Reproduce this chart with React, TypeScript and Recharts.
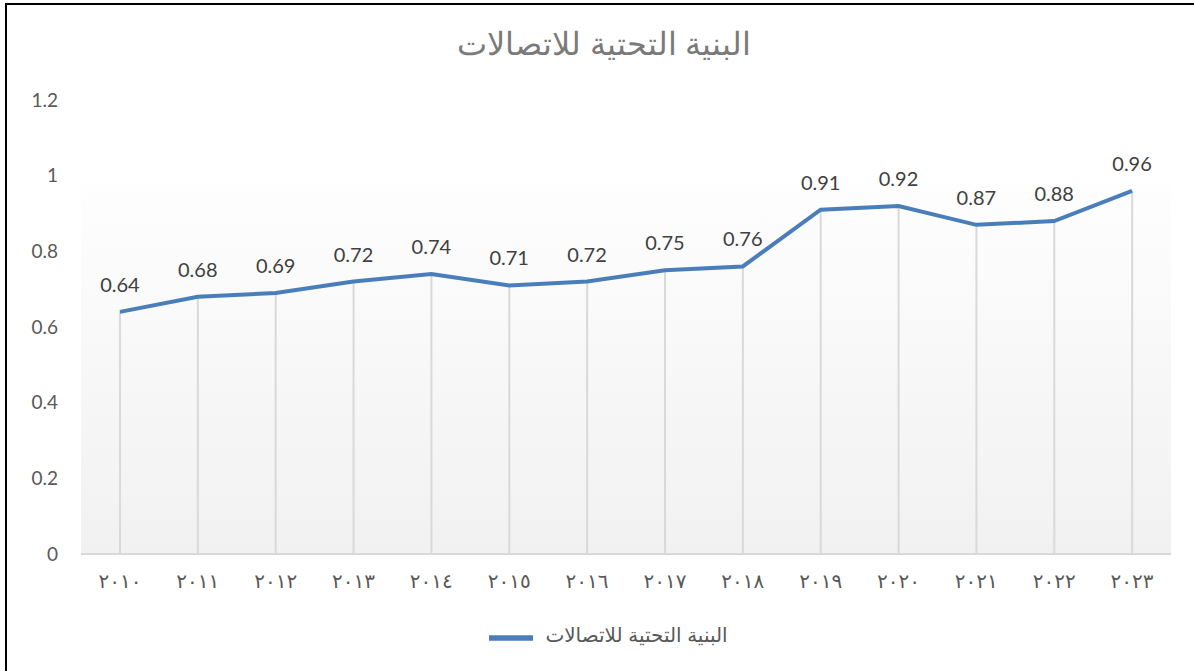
import React from "react"
import {
  ComposedChart,
  Line,
  Bar,
  XAxis,
  YAxis,
  Legend,
  LabelList,
  ReferenceArea
} from "recharts"

const years = ["٢٠١٠", "٢٠١١", "٢٠١٢", "٢٠١٣", "٢٠١٤", "٢٠١٥", "٢٠١٦", "٢٠١٧", "٢٠١٨", "٢٠١٩", "٢٠٢٠", "٢٠٢١", "٢٠٢٢", "٢٠٢٣"]
const values = [0.64, 0.68, 0.69, 0.72, 0.74, 0.71, 0.72, 0.75, 0.76, 0.91, 0.92, 0.87, 0.88, 0.96]
const yTicks = [0, 0.2, 0.4, 0.6, 0.8, 1, 1.2]
const seriesName = "البنية التحتية للاتصالات"

const data = years.map((year, i) => ({ year, value: values[i] }))

const latin = "Lato, 'Open Sans', 'DejaVu Sans', sans-serif"
const arabic = "'Liberation Sans', 'DejaVu Sans', sans-serif"

export default function App() {
  return (
    <div style={{ position: "absolute", left: 0, top: 0, width: 1194, height: 671, background: "#fff" }}>
      <div
        style={{
          position: "absolute",
          left: 5,
          top: 3,
          width: 1189,
          height: 668,
          borderTop: "2px solid #000",
          borderLeft: "2px solid #000",
          boxSizing: "border-box"
        }}
      />
      <div
        style={{
          position: "absolute",
          left: 0,
          top: 25,
          width: 1208,
          textAlign: "center",
          fontFamily: arabic,
          fontSize: 32,
          fontWeight: 300,
          color: "#7a7a7a",
          direction: "rtl"
        }}
      >
        {seriesName}
      </div>
      <ComposedChart
        width={1194}
        height={671}
        data={data}
        margin={{ top: 100, right: 23, bottom: 33, left: 0 }}
      >
        <defs>
          <linearGradient id="plotBg" x1="0" y1="0" x2="0" y2="1">
            <stop offset="0%" stopColor="#fefefe" />
            <stop offset="100%" stopColor="#f1f1f1" />
          </linearGradient>
        </defs>
        <ReferenceArea y1={0} y2={0.98} fill="url(#plotBg)" fillOpacity={1} stroke="none" />
        <XAxis
          dataKey="year"
          height={40}
          tickSize={0}
          tickMargin={20}
          axisLine={{ stroke: "#d9d9d9", strokeWidth: 2 }}
          tick={{ fill: "#595959", fontSize: 20, fontFamily: arabic, letterSpacing: 5 }}
        />
        <YAxis
          width={81}
          domain={[0, 1.2]}
          ticks={yTicks}
          tickSize={0}
          tickMargin={23}
          axisLine={false}
          tick={{ fill: "#595959", fontSize: 19, fontFamily: latin }}
        />
        <Bar dataKey="value" barSize={2} fill="#d9d9d9" legendType="none" isAnimationActive={false} />
        <Line
          dataKey="value"
          name={seriesName}
          stroke="#4a7ebb"
          strokeWidth={4}
          dot={false}
          activeDot={false}
          isAnimationActive={false}
        >
          <LabelList
            dataKey="value"
            position="top"
            offset={20}
            fill="#404040"
            fontSize={20}
            fontFamily={latin}
          />
        </Line>
        <Legend
          verticalAlign="bottom"
          iconType="plainline"
          iconSize={44}
          wrapperStyle={{ top: 616, left: 28 }}
          formatter={(v) => (
            <span style={{ color: "#595959", fontSize: 20, fontFamily: arabic, marginLeft: 8 }}>{v}</span>
          )}
        />
      </ComposedChart>
    </div>
  )
}
